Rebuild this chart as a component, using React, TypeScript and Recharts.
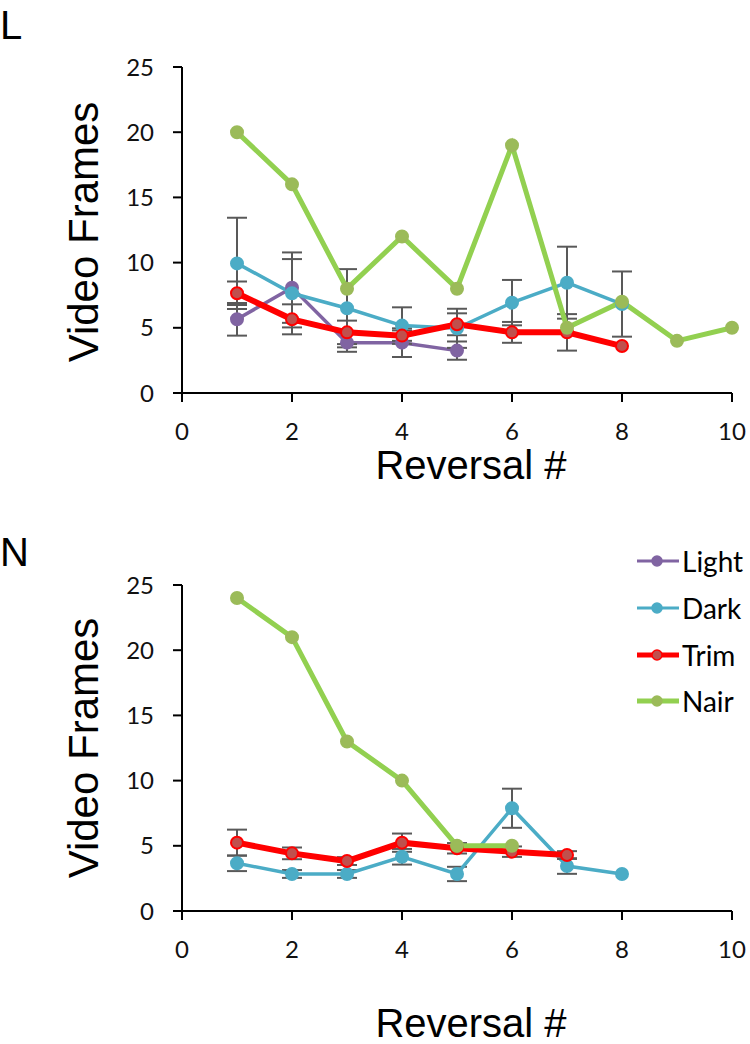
import React from "react";
import { LineChart, Line, XAxis, YAxis, ErrorBar } from "recharts";

// reversal numbers (x) and values
const REVERSALS = [1, 2, 3, 4, 5, 6, 7, 8, 9, 10];
const X_TICKS = [0, 2, 4, 6, 8, 10];
const Y_TICKS = [0, 5, 10, 15, 20, 25];

// panel L
const L_LIGHT = [5.65, 8.08, 3.86, 3.86, 3.25];
const L_LIGHT_ERR = [1.25, 2.7, 0.7, 1.1, 0.7];
const L_DARK = [9.94, 7.65, 6.5, 5.17, 4.96, 6.93, 8.46, 6.82];
const L_DARK_ERR = [3.5, 2.62, 3.0, 1.4, 1.5, 1.74, 2.76, 2.5];
const L_TRIM = [7.65, 5.65, 4.65, 4.4, 5.27, 4.65, 4.65, 3.6];
const L_TRIM_ERR = [0.9, 1.15, 0.9, 0.4, 0.84, 0.8, 1.4, 0];
const L_NAIR = [20, 16, 8, 12, 8, 19, 5, 7, 4, 5];

// panel N
const N_DARK = [3.66, 2.84, 2.84, 4.16, 2.84, 7.88, 3.45, 2.84];
const N_DARK_ERR = [0.6, 0.3, 0.3, 0.6, 0.55, 1.5, 0.6, 0];
const N_TRIM = [5.24, 4.42, 3.83, 5.24, 4.81, 4.55, 4.29];
const N_TRIM_ERR = [1.0, 0.45, 0.3, 0.7, 0.4, 0.4, 0.3];
const N_NAIR = [24, 21, 13, 10, 5, 5];

const SERIES = [
  { name: "Light", line: "#8064A2", dot: "#8064A2", dotStroke: "#8064A2", width: 3.5, legendWidth: 3 },
  { name: "Dark", line: "#4BACC6", dot: "#4BACC6", dotStroke: "#4BACC6", width: 3.5, legendWidth: 3 },
  { name: "Trim", line: "#FF0000", dot: "#C0504D", dotStroke: "#FF0000", width: 6, legendWidth: 5 },
  { name: "Nair", line: "#92D050", dot: "#9BBB59", dotStroke: "#9BBB59", width: 5, legendWidth: 5 },
];

const toRows = (ys: number[], errs?: number[]) =>
  ys.map((y, i) => ({ x: REVERSALS[i], y, err: errs ? errs[i] : 0 }));

const TICK_FONT = "Lato, 'Open Sans', sans-serif";
const LABEL_FONT = "'Liberation Sans', Arial, sans-serif";

type PanelProps = {
  height: number;
  top: number;
  bottom: number;
  lines: { s: (typeof SERIES)[number]; rows: { x: number; y: number; err: number }[]; errors: boolean }[];
};

const Panel = ({ height, top, bottom, lines }: PanelProps) => (
  <LineChart
    width={750}
    height={height}
    margin={{ top, right: 18, bottom, left: 122 }}
  >
    <XAxis
      type="number"
      dataKey="x"
      domain={[0, 10]}
      ticks={X_TICKS}
      height={60}
      tickSize={9}
      tickMargin={21}
      axisLine={{ stroke: "#000", strokeWidth: 2 }}
      tickLine={{ stroke: "#000", strokeWidth: 2 }}
      tick={{ fill: "#111", fontSize: 24, fontFamily: TICK_FONT }}
      allowDuplicatedCategory={false}
    />
    <YAxis
      type="number"
      domain={[0, 25]}
      ticks={Y_TICKS}
      width={60}
      tickSize={9}
      tickMargin={19}
      axisLine={{ stroke: "#000", strokeWidth: 2 }}
      tickLine={{ stroke: "#000", strokeWidth: 2 }}
      tick={{ fill: "#111", fontSize: 24, fontFamily: TICK_FONT }}
    />
    {lines.map(({ s, rows, errors }) => (
      <Line
        key={s.name}
        data={rows}
        dataKey="y"
        name={s.name}
        type="linear"
        stroke={s.line}
        strokeWidth={s.width}
        dot={{ r: 6, fill: s.dot, stroke: s.dotStroke, strokeWidth: 2, fillOpacity: 1 }}
        activeDot={false}
        isAnimationActive={false}
      >
        {errors && (
          <ErrorBar
            dataKey="err"
            direction="y"
            width={10}
            strokeWidth={2}
            stroke="#595959"
            isAnimationActive={false}
          />
        )}
      </Line>
    ))}
  </LineChart>
);

const abs = (left: number, top: number): React.CSSProperties => ({
  position: "absolute",
  left,
  top,
});

const YLabel = ({ cx, cy }: { cx: number; cy: number }) => (
  <div
    style={{
      ...abs(cx, cy),
      transform: "translate(-50%, -50%) rotate(-90deg)",
      fontFamily: LABEL_FONT,
      fontSize: 42,
      lineHeight: "34px",
      whiteSpace: "nowrap",
      color: "#000",
    }}
  >
    Video Frames
  </div>
);

const XLabel = ({ cx, cy }: { cx: number; cy: number }) => (
  <div
    style={{
      ...abs(cx, cy),
      transform: "translate(-50%, -50%)",
      fontFamily: LABEL_FONT,
      fontSize: 40,
      lineHeight: "30px",
      whiteSpace: "nowrap",
      color: "#000",
    }}
  >
    Reversal #
  </div>
);

const PanelLetter = ({ text, top }: { text: string; top: number }) => (
  <div
    style={{
      ...abs(0, top),
      fontFamily: LABEL_FONT,
      fontSize: 40,
      lineHeight: 1,
      color: "#000",
    }}
  >
    {text}
  </div>
);

const LegendBox = () => (
  <div style={{ ...abs(636, 538) }}>
    {SERIES.map((s) => (
      <div
        key={s.name}
        style={{ display: "flex", alignItems: "center", height: 46.7 }}
      >
        <svg width={44} height={20}>
          <line x1={1} x2={43} y1={10} y2={10} stroke={s.line} strokeWidth={s.legendWidth} />
          <circle cx={21} cy={10} r={5} fill={s.dot} stroke={s.dotStroke} strokeWidth={1.5} />
        </svg>
        <span
          style={{
            fontFamily: TICK_FONT,
            fontSize: 28,
            color: "#000",
            marginLeft: 2,
            lineHeight: 1,
          }}
        >
          {s.name}
        </span>
      </div>
    ))}
  </div>
);

const [LIGHT, DARK, TRIM, NAIR] = SERIES;

export default function App() {
  return (
    <div
      style={{
        position: "absolute",
        left: 0,
        top: 0,
        width: 750,
        height: 1044,
        background: "#fff",
        overflow: "hidden",
      }}
    >
      <div style={abs(0, 0)}>
        <Panel
          height={520}
          top={67}
          bottom={67}
          lines={[
            { s: LIGHT, rows: toRows(L_LIGHT, L_LIGHT_ERR), errors: true },
            { s: DARK, rows: toRows(L_DARK, L_DARK_ERR), errors: true },
            { s: TRIM, rows: toRows(L_TRIM, L_TRIM_ERR), errors: true },
            { s: NAIR, rows: toRows(L_NAIR), errors: false },
          ]}
        />
      </div>
      <div style={abs(0, 520)}>
        <Panel
          height={524}
          top={65}
          bottom={73}
          lines={[
            { s: DARK, rows: toRows(N_DARK, N_DARK_ERR), errors: true },
            { s: TRIM, rows: toRows(N_TRIM, N_TRIM_ERR), errors: true },
            { s: NAIR, rows: toRows(N_NAIR), errors: false },
          ]}
        />
      </div>
      <PanelLetter text="L" top={5} />
      <PanelLetter text="N" top={532} />
      <YLabel cx={84} cy={232} />
      <YLabel cx={84} cy={748} />
      <XLabel cx={471} cy={465} />
      <XLabel cx={471} cy={1023} />
      <LegendBox />
    </div>
  );
}
